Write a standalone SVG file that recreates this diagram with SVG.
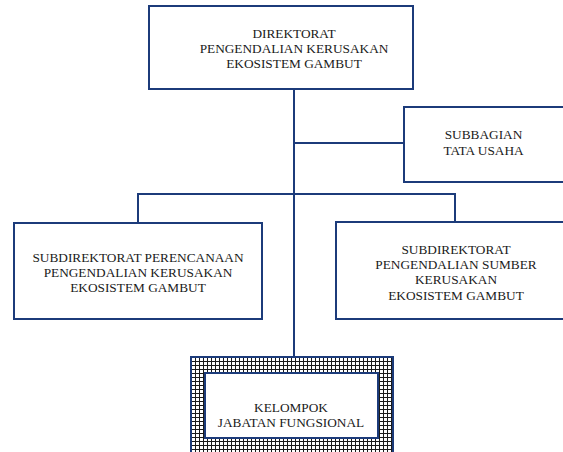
<svg xmlns="http://www.w3.org/2000/svg" width="563" height="452" viewBox="0 0 563 452">
<defs>
<pattern id="grid" width="4" height="4" patternUnits="userSpaceOnUse" x="191" y="357">
<rect width="4" height="4" fill="#ffffff"/>
<path d="M0 0.5H4M0.5 0V4" stroke="#1a1a1a" stroke-width="1"/>
</pattern>
</defs>
<style>
.box{fill:#fff;stroke:#1c3b7a;stroke-width:2}
.ln{fill:none;stroke:#1c3b7a;stroke-width:2}
text{font-family:"Liberation Serif","Times New Roman",serif;font-size:13.3px;fill:#1a1a1a;text-anchor:middle}
</style>
<g id="connectors">
<line class="ln" x1="294" y1="89" x2="294" y2="358"/>
<line class="ln" x1="294" y1="143" x2="404" y2="143"/>
<polyline class="ln" points="138,223 138,194 455,194 455,222"/>
</g>
<g id="direktorat">
<rect class="box" x="149" y="6" width="264" height="83"/>
<text x="294" y="37.5">DIREKTORAT</text>
<text x="294" y="52.5">PENGENDALIAN KERUSAKAN</text>
<text x="294" y="67.5">EKOSISTEM GAMBUT</text>
</g>
<g id="subbagian">
<rect class="box" x="404" y="107" width="170" height="75"/>
<text x="483.5" y="139">SUBBAGIAN</text>
<text x="483.5" y="155">TATA USAHA</text>
</g>
<g id="subdit-perencanaan">
<rect class="box" x="14" y="223" width="248" height="96"/>
<text x="138" y="262">SUBDIREKTORAT PERENCANAAN</text>
<text x="138" y="277">PENGENDALIAN KERUSAKAN</text>
<text x="138" y="292">EKOSISTEM GAMBUT</text>
</g>
<g id="subdit-sumber">
<rect class="box" x="336" y="222" width="240" height="97"/>
<text x="456" y="254">SUBDIREKTORAT</text>
<text x="456" y="269">PENGENDALIAN SUMBER</text>
<text x="456" y="284">KERUSAKAN</text>
<text x="456" y="299.5">EKOSISTEM GAMBUT</text>
</g>
<g id="kelompok">
<rect x="191" y="357" width="202" height="100" fill="url(#grid)" stroke="#1c3b7a" stroke-width="2"/>
<rect class="box" x="205" y="373" width="173" height="65"/>
<text x="291" y="412">KELOMPOK</text>
<text x="291" y="427">JABATAN FUNGSIONAL</text>
</g>
</svg>
